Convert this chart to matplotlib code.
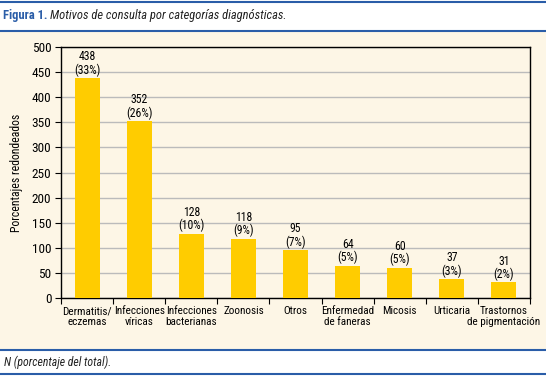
import matplotlib
matplotlib.use("Agg")
import matplotlib.pyplot as plt
from matplotlib.lines import Line2D
from matplotlib.patches import Rectangle
from matplotlib import font_manager

categories = ["Dermatitis/\neczemas", "Infecciones\nvíricas", "Infecciones\nbacterianas",
              "Zoonosis", "Otros", "Enfermedad\nde faneras", "Micosis", "Urticaria",
              "Trastornos\nde pigmentación"]
values = [438, 352, 128, 118, 95, 64, 60, 37, 31]
percents = [33, 26, 10, 9, 7, 5, 5, 3, 2]
yticks = [0, 50, 100, 150, 200, 250, 300, 350, 400, 450, 500]

names = {f.name for f in font_manager.fontManager.ttflist}
fam = "DejaVu Sans"
for cand in ["Liberation Sans Narrow", "Roboto Condensed", "Open Sans Condensed",
             "Noto Sans Condensed", "DejaVu Sans Condensed", "Roboto", "Liberation Sans"]:
    if cand in names:
        fam = cand
        break
plt.rcParams['font.family'] = [fam, 'DejaVu Sans']

W, H = 546, 378
fig = plt.figure(figsize=(W/100, H/100), dpi=100)
fig.patch.set_facecolor("white")

fig.add_artist(Rectangle((0, 1 - 350/H), 1, (350-32)/H, transform=fig.transFigure,
                         facecolor="#FDF6E6", edgecolor="none", zorder=0))
blue = "#2A5DA8"
for yy in [2, 31, 350, 374]:
    fig.add_artist(Line2D([0, 1], [1 - yy/H]*2, transform=fig.transFigure, color=blue, lw=1.5))

t1 = fig.text(3/W, 1 - 15/H, "Figura 1.", color=blue, fontsize=9, fontweight="bold", va="center")
fig.canvas.draw()
bb = t1.get_window_extent()
fig.text((bb.x1 + 3)/W, 1 - 15/H, "Motivos de consulta por categorías diagnósticas.", color="#222222",
         fontsize=9, style="italic", va="center")
fig.text(4/W, 1 - 362/H, "N (porcentaje del total).", color="#222222", fontsize=8.5,
         style="italic", va="center")

left, right, top, bottom = 61, 530, 47, 298
ax = fig.add_axes([left/W, 1 - bottom/H, (right-left)/W, (bottom-top)/H])
ax.set_facecolor("#FDF6E6")
x = list(range(len(categories)))
ax.bar(x, values, width=0.48, color="#FFCC00", zorder=3)
ax.set_xlim(-0.5, len(categories) - 0.5)
ax.set_ylim(0, 500)
ax.set_yticks(yticks)
ax.yaxis.grid(True, color="#BBBBBB", lw=1, zorder=0)
ax.set_xticks([i - 0.5 for i in range(len(categories) + 1)])
ax.set_xticklabels([])
ax.set_xticks(x, minor=True)
ax.set_xticklabels(categories, minor=True, fontsize=8, linespacing=1.1)
ax.tick_params(axis="x", which="minor", length=0, pad=6)
ax.tick_params(axis="x", which="major", length=4, direction="out")
ax.tick_params(axis="y", length=4, labelsize=9.5, pad=3)
for s in ax.spines.values():
    s.set_color("black")
    s.set_linewidth(1)
for i, (v, p) in enumerate(zip(values, percents)):
    ax.text(i, v + 3, f"{v}\n({p}%)", ha="center", va="bottom", fontsize=8.5, linespacing=1.0)
ax.set_ylabel("Porcentajes redondeados", fontsize=8.5, labelpad=6)

fig.savefig("out.png", dpi=100, facecolor="white")
